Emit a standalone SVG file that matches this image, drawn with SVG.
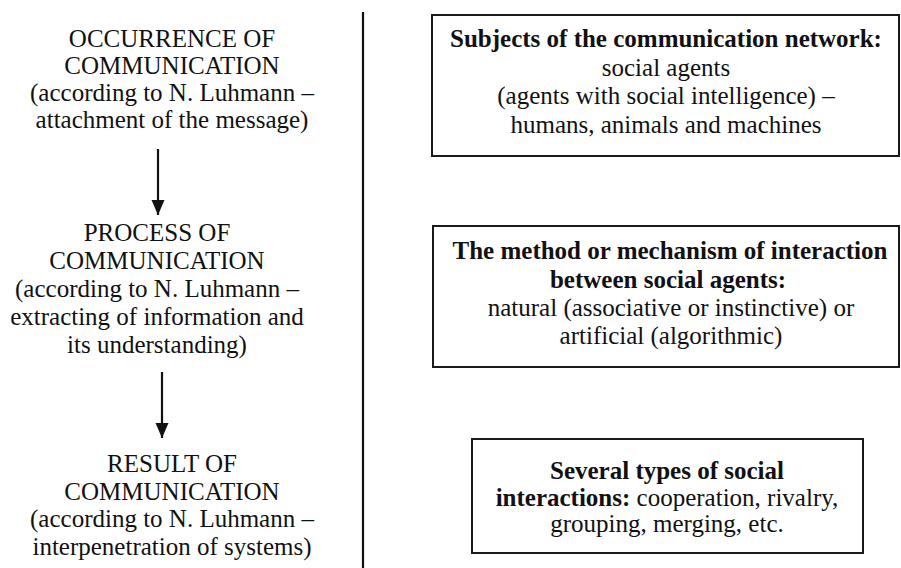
<svg xmlns="http://www.w3.org/2000/svg" width="901" height="568" viewBox="0 0 901 568">
<defs>
<style>
text{font-family:'Liberation Serif','Times New Roman',serif;font-size:25px;fill:#111;text-anchor:middle}
.b{font-weight:bold}
.box{fill:#fff;stroke:#1a1a1a;stroke-width:2}
.ln{stroke:#111;stroke-width:2.2;fill:none}
</style>
<marker id="ah" markerUnits="userSpaceOnUse" markerWidth="16" markerHeight="14" refX="15" refY="7" orient="auto" viewBox="0 0 16 14">
<path d="M0,0.5 L15,7 L0,13.5 Z" fill="#111"/>
</marker>
</defs>
<rect width="901" height="568" fill="#fff"/>
<g id="connectors">
<line class="ln" x1="158" y1="149" x2="158" y2="215" marker-end="url(#ah)"/>
<line class="ln" x1="162" y1="372" x2="162" y2="438" marker-end="url(#ah)"/>
<line class="ln" x1="363" y1="12" x2="363" y2="568"/>
</g>
<g id="occurrence">
<text x="172" y="47">OCCURRENCE OF</text>
<text x="172" y="74">COMMUNICATION</text>
<text x="172" y="101">(according to N. Luhmann –</text>
<text x="172" y="128">attachment of the message)</text>
</g>
<g id="process">
<text x="157" y="241">PROCESS OF</text>
<text x="157" y="269">COMMUNICATION</text>
<text x="157" y="297">(according to N. Luhmann –</text>
<text x="157" y="325">extracting of information and</text>
<text x="157" y="353">its understanding)</text>
</g>
<g id="result">
<text x="172" y="472">RESULT OF</text>
<text x="172" y="500">COMMUNICATION</text>
<text x="172" y="527">(according to N. Luhmann –</text>
<text x="172" y="555">interpenetration of systems)</text>
</g>
<g id="subjects">
<rect class="box" x="432" y="15" width="467" height="141"/>
<text class="b" x="666" y="47">Subjects of the communication network:</text>
<text x="666" y="76">social agents</text>
<text x="666" y="104">(agents with social intelligence) –</text>
<text x="666" y="133">humans, animals and machines</text>
</g>
<g id="method">
<rect class="box" x="433" y="226" width="466" height="141"/>
<text class="b" x="670" y="259">The method or mechanism of interaction</text>
<text class="b" x="668" y="288">between social agents:</text>
<text x="671" y="316">natural (associative or instinctive) or</text>
<text x="671" y="344">artificial (algorithmic)</text>
</g>
<g id="types">
<rect class="box" x="472" y="439" width="391" height="114"/>
<text class="b" x="667" y="479">Several types of social</text>
<text x="667" y="506"><tspan class="b">interactions:</tspan> cooperation, rivalry,</text>
<text x="667" y="532">grouping, merging, etc.</text>
</g>
</svg>
